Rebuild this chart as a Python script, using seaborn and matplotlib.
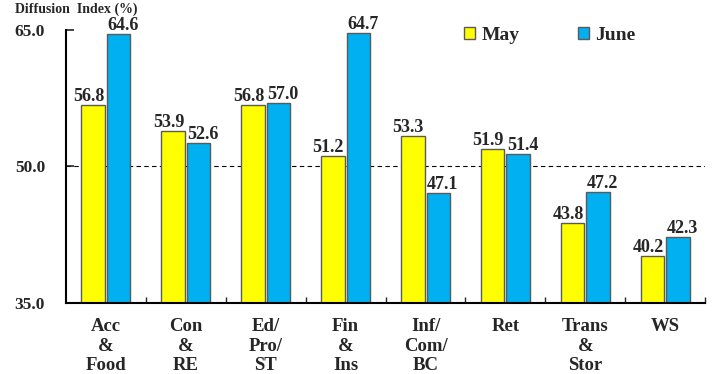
import matplotlib
matplotlib.use("Agg")
import matplotlib.pyplot as plt
import seaborn as sns
import pandas as pd

categories = ["Acc\n&\nFood", "Con\n&\nRE", "Ed/\nPro/\nST", "Fin\n&\nIns",
              "Inf/\nCom/\nBC", "Ret", "Trans\n&\nStor", "WS"]
may_values = [56.8, 53.9, 56.8, 51.2, 53.3, 51.9, 43.8, 40.2]
june_values = [64.6, 52.6, 57.0, 64.7, 47.1, 51.4, 47.2, 42.3]
series_names = ["May", "June"]
y_ticks = [35.0, 50.0, 65.0]

df = pd.DataFrame({
    "category": categories * 2,
    "month": [series_names[0]] * len(categories) + [series_names[1]] * len(categories),
    "value": may_values + june_values,
})

sns.set_style("white")
plt.rcParams["font.family"] = ["Liberation Serif", "DejaVu Serif"]
plt.rcParams["font.weight"] = "bold"

fig = plt.figure(figsize=(7.16, 3.74), dpi=100)
ax = fig.add_axes([0.092, 0.19, 0.893, 0.73])

sns.barplot(data=df, x="category", y="value", hue="month",
            palette={"May": "#FFFF00", "June": "#00B0F0"}, saturation=1,
            width=0.64, gap=0.08, edgecolor="#5a5a5a", linewidth=1.0,
            ax=ax, legend=True)

# value labels, nudged outward so neighbouring pairs stay apart
for cont, dx in zip(ax.containers, (-3.2, 3.2)):
    labels = ax.bar_label(cont, fmt="%.1f", padding=0, fontsize=13,
                          fontweight="bold", clip_on=False)
    for lab in labels:
        lab.xyann = (dx, lab.xyann[1])

ax.set_ylim(35, 65)
ax.set_xlim(-0.5, len(categories) - 0.5)
ax.set_yticks(y_ticks)
ax.set_yticklabels([f"{v:.1f}" for v in y_ticks], fontsize=12.5, fontweight="bold")
ax.axhline(50, color="black", linestyle=(0, (4, 3)), linewidth=0.8, zorder=0)

ax.set_xticks(range(len(categories)))
ax.set_xticklabels(categories, fontsize=13.5, fontweight="bold", linespacing=1.2)
ax.tick_params(axis="x", length=0, pad=11)
ax.set_xticks([i + 0.5 for i in range(len(categories))], minor=True)
ax.tick_params(axis="x", which="minor", direction="in", length=4, width=1, bottom=True)
ax.tick_params(axis="y", direction="in", length=6, width=1.2, left=True, pad=15)

for side in ["top", "right"]:
    ax.spines[side].set_visible(False)
for side in ["left", "bottom"]:
    ax.spines[side].set_color("black")
    ax.spines[side].set_linewidth(1.5)

ax.set_xlabel("")
ax.set_ylabel("")
fig.text(0.021, 0.992, "Diffusion  Index (%)", fontsize=10, fontweight="bold",
         va="top")

leg = ax.legend(loc="upper left", bbox_to_anchor=(0.595, 1.075), ncol=2, frameon=False,
                handlelength=0.6, handleheight=0.6, columnspacing=3.0,
                handletextpad=0.3, prop={"size": 14, "weight": "bold"})

fig.savefig("out.png", dpi=100)
